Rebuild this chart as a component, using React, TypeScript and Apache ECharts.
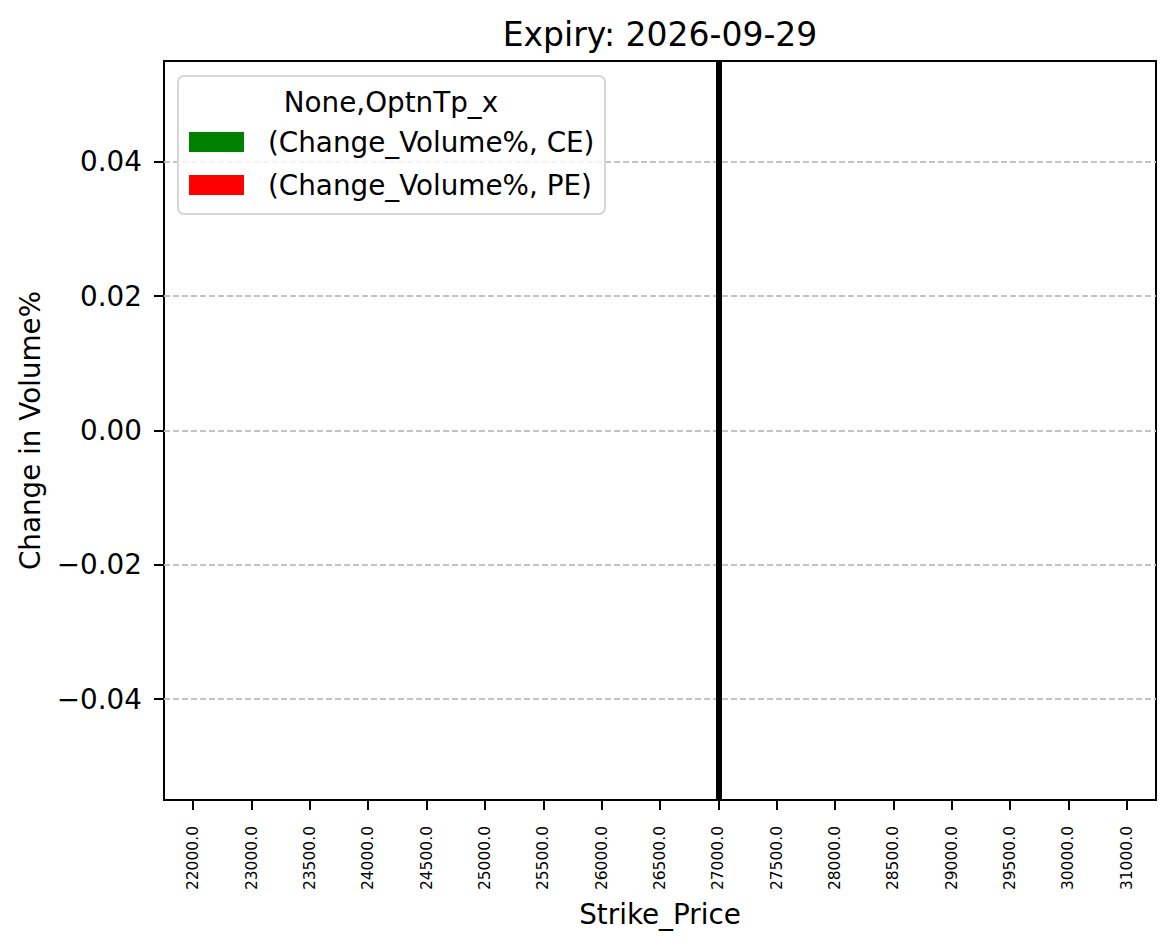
import React, { useEffect, useRef } from "react";
import * as echarts from "echarts";

const strikePrices = [
  "22000.0", "23000.0", "23500.0", "24000.0", "24500.0", "25000.0", "25500.0", "26000.0", "26500.0",
  "27000.0", "27500.0", "28000.0", "28500.0", "29000.0", "29500.0", "30000.0", "31000.0",
];
const ceValues = [0, 0, 0, 0, 0, 0, 0, 0, 0, 0, 0, 0, 0, 0, 0, 0, 0];
const peValues = [0, 0, 0, 0, 0, 0, 0, 0, 0, 0, 0, 0, 0, 0, 0, 0, 0];
const yTicks = [-0.04, -0.02, 0, 0.02, 0.04];
const markedStrike = "27000.0";
const seriesNames = ["(Change_Volume%, CE)", "(Change_Volume%, PE)"];
const legendTitle = "None,OptnTp_x";
const chartTitle = "Expiry: 2026-09-29";

const FONT = "DejaVu Sans";

export default function App() {
  const ref = useRef<HTMLDivElement>(null);
  useEffect(() => {
    document.body.style.margin = "0";
    const chart = echarts.init(ref.current!, null, { renderer: "svg" });
    const fmt = (v: number) => (v < 0 ? "\u2212" : "") + Math.abs(v).toFixed(2);
    chart.setOption({
      animation: false,
      backgroundColor: "#fff",
      textStyle: { fontFamily: FONT },
      title: {
        text: chartTitle,
        left: 655,
        textAlign: "center",
        top: 13,
        textStyle: { fontFamily: FONT, fontSize: 33, fontWeight: "normal", color: "#000" },
      },
      grid: {
        left: 164,
        top: 61,
        width: 992,
        height: 739,
        show: true,
        borderColor: "#000",
        borderWidth: 2,
        backgroundColor: "transparent",
      },
      xAxis: {
        type: "category",
        data: strikePrices,
        boundaryGap: true,
        name: "Strike_Price",
        nameLocation: "middle",
        nameGap: 100,
        nameTextStyle: { fontFamily: FONT, fontSize: 27.8, color: "#000" },
        axisLine: { show: true, onZero: false, lineStyle: { color: "#000", width: 2 } },
        axisTick: { show: true, alignWithLabel: true, length: 10, lineStyle: { color: "#000", width: 2 } },
        axisLabel: {
          rotate: 90,
          interval: 0,
          margin: 26,
          fontFamily: FONT,
          fontSize: 15.5,
          color: "#000",
        },
        splitLine: { show: false },
      },
      yAxis: {
        type: "value",
        min: -0.055,
        max: 0.055,
        name: "Change in Volume%",
        nameLocation: "middle",
        nameGap: 120,
        nameRotate: 90,
        nameTextStyle: { fontFamily: FONT, fontSize: 27.8, color: "#000" },
        axisLine: { show: true, onZero: false, lineStyle: { color: "#000", width: 2 } },
        axisTick: { show: true, customValues: yTicks, length: 10, lineStyle: { color: "#000", width: 2 } },
        axisLabel: {
          customValues: yTicks,
          formatter: fmt,
          margin: 22,
          fontFamily: FONT,
          fontSize: 27.8,
          color: "#000",
        },
        splitLine: { show: false },
      },
      series: [
        {
          name: seriesNames[0],
          type: "bar",
          data: ceValues,
          itemStyle: { color: "green" },
        },
        {
          name: seriesNames[1],
          type: "bar",
          data: peValues,
          itemStyle: { color: "red" },
        },
        {
          name: "marks",
          type: "line",
          data: strikePrices.map(() => null),
          showSymbol: false,
          lineStyle: { opacity: 0 },
          markLine: {
            silent: true,
            symbol: "none",
            label: { show: false },
            data: [
              ...yTicks.map((v) => ({
                yAxis: v,
                lineStyle: { color: "#c4c4c4", width: 1.8, type: [6, 3] },
              })),
              { xAxis: markedStrike, lineStyle: { color: "#000", width: 6, type: "solid" } },
            ],
          },
        },
      ],
      graphic: [
        {
          type: "rect",
          shape: { x: 178, y: 76, width: 427, height: 138, r: 6 },
          style: { fill: "rgba(255,255,255,0.8)", stroke: "#d6d6d6", lineWidth: 2 },
          z: 100,
        },
        {
          type: "text",
          x: 391,
          y: 102,
          style: {
            text: legendTitle,
            fontFamily: FONT,
            fontSize: 27.8,
            fill: "#000",
            align: "center",
            verticalAlign: "middle",
          },
          z: 101,
        },
        {
          type: "rect",
          shape: { x: 189, y: 132, width: 55, height: 20 },
          style: { fill: "green" },
          z: 101,
        },
        {
          type: "text",
          x: 268,
          y: 142,
          style: {
            text: seriesNames[0],
            fontFamily: FONT,
            fontSize: 27.8,
            fill: "#000",
            align: "left",
            verticalAlign: "middle",
          },
          z: 101,
        },
        {
          type: "rect",
          shape: { x: 189, y: 175, width: 55, height: 20 },
          style: { fill: "red" },
          z: 101,
        },
        {
          type: "text",
          x: 268,
          y: 185,
          style: {
            text: seriesNames[1],
            fontFamily: FONT,
            fontSize: 27.8,
            fill: "#000",
            align: "left",
            verticalAlign: "middle",
          },
          z: 101,
        },
      ],
    });
    return () => chart.dispose();
  }, []);
  return <div ref={ref} style={{ width: 1175, height: 949 }} />;
}
